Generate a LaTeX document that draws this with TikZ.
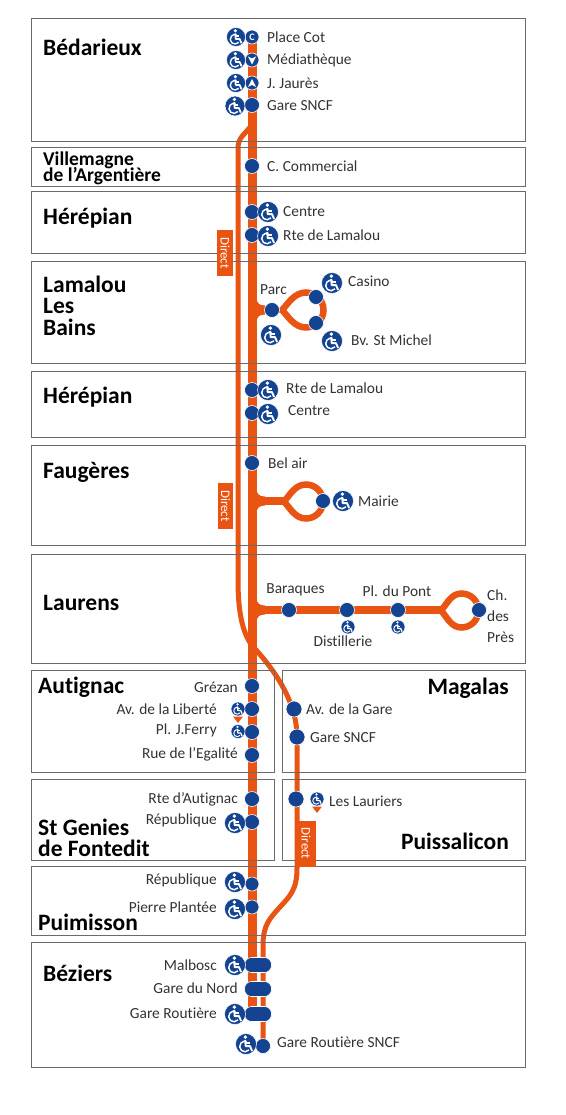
\documentclass[tikz,border=0pt]{standalone}
\usepackage{fontspec}
\setmainfont[Ligatures=NoCommon]{Carlito}
\usetikzlibrary{arrows.meta}
\definecolor{lineorange}{HTML}{E95412}
\definecolor{stopblue}{HTML}{134391}
\definecolor{framegray}{HTML}{6A6A6A}
\definecolor{textgray}{HTML}{333333}
\pgfdeclarelayer{lines}
\pgfdeclarelayer{boxes}
\pgfsetlayers{lines,boxes,main}
\tikzset{
  wheelchair/.pic={
    \begin{scope}[scale=#1]
      \fill[stopblue, draw=white, line width=.5pt] (0,0) circle (10);
      \fill[white] (-.6,-6.6) circle (1.8);
      \draw[white, line width=#1*1.8pt, line join=round] (-.8,-3.8) -- (-.3,2) -- (3.8,2) -- (5.8,6.6);
      \draw[white, line width=#1*1.5pt] (-.6,-.9) -- (3.4,-.9);
      \draw[white, line width=#1*1.4pt] (2.8,5.6) arc (40:290:5);
    \end{scope}
  },
  forkjoin/.pic={
    \fill[lineorange] (0,-13) -- (4.5,-13) .. controls (4.5,-7) and (7,-4.5) .. (13,-4.5) -- (13,4.5)
      .. controls (7,4.5) and (4.5,7) .. (4.5,13) -- (0,13) -- cycle;
  }
}
\begin{document}
\begin{tikzpicture}[x=1pt,y=-1pt,
  stopdot/.style={circle, fill=stopblue, draw=white, line width=.6pt, minimum size=15pt, inner sep=0pt},
  stoppill/.style={rectangle, rounded corners=7pt, fill=stopblue, draw=white, line width=.6pt, minimum width=27pt, minimum height=15pt, inner sep=0pt},
  stoptext/.style={font=\fontsize{15.4}{16}\selectfont, text=textgray, inner sep=0pt},
  towntext/.style={font=\fontsize{23.5}{20}\selectfont\bfseries, text=black, inner sep=0pt, align=left},
  directtag/.style={rectangle, fill=lineorange, text=white, font=\fontsize{13}{13}\selectfont, rotate=-90, minimum width=46pt, minimum height=15.5pt, inner sep=0pt},
  boxframe/.style={draw=framegray, line width=1pt},
  mainline/.style={draw=lineorange, line width=9pt},
  directline/.style={draw=lineorange, line width=5pt},
  forkline/.style={draw=lineorange, line width=6.5pt}]

\useasboundingbox (0,0) rectangle (565,1115);

\node[stopdot, minimum size=14pt, text=white, font=\fontsize{10}{10}\selectfont\bfseries] (cot) at (252,37) {C};
\node[stopdot, minimum size=14pt] (media) at (252,60) {};
\node[stopdot, minimum size=14pt] (jaures) at (252,83) {};
\node[stopdot] (gare) at (252,105) {};
\node[stopdot] (commercial) at (252,166) {};
\node[stopdot] (centre) at (252,212) {};
\node[stopdot] (lamalou) at (252,235) {};
\node[stopdot] (parc) at (272,310) {};
\node[stopdot] (casino) at (316,297) {};
\node[stopdot] (michel) at (316,323) {};
\node[stopdot] (lamalourt) at (252,390) {};
\node[stopdot] (centrert) at (252,413) {};
\node[stopdot] (belair) at (252,463) {};
\node[stopdot] (mairie) at (323,501) {};
\node[stopdot] (baraques) at (289,610) {};
\node[stopdot] (distillerie) at (347,610) {};
\node[stopdot] (pont) at (398,610) {};
\node[stopdot] (pres) at (479,610) {};
\node[stopdot] (grezan) at (252,686) {};
\node[stopdot] (liberte) at (252,709) {};
\node[stopdot] (ferry) at (252,732) {};
\node[stopdot] (egalite) at (252,755) {};
\node[stopdot, minimum size=16pt] (avgare) at (294,709) {};
\node[stopdot, minimum size=16pt] (magsncf) at (297,737) {};
\node[stopdot, minimum size=16pt] (lauriers) at (296,799) {};
\node[stopdot] (autignac) at (252,799) {};
\node[stopdot] (repgenies) at (252,822) {};
\node[stopdot, minimum size=14pt] (reppui) at (252,884) {};
\node[stopdot, minimum size=14pt] (plantee) at (252,907) {};
\node[stoppill] (malbosc) at (258,965) {};
\node[stoppill] (nord) at (258,989) {};
\node[stoppill] (routiere) at (258,1014) {};
\node[stopdot] (routsncf) at (263,1046) {};

\fill[white] (248,56.5) -- (252,58.5) -- (256,56.5) -- (252,64.5) -- cycle;
\fill[white] (248,87) -- (252,85) -- (256,87) -- (252,79) -- cycle;

\pic at (236,37) {wheelchair=.95};
\pic at (236,60) {wheelchair=.95};
\pic at (236,83) {wheelchair=.95};
\pic at (235,106) {wheelchair=1};
\pic at (268,212) {wheelchair=1.05};
\pic at (268,236) {wheelchair=1.05};
\pic at (332,283) {wheelchair=1.05};
\pic at (271,335) {wheelchair=1.05};
\pic at (332,341) {wheelchair=1.05};
\pic at (268,390) {wheelchair=1.05};
\pic at (268,414) {wheelchair=1.05};
\pic at (343,501) {wheelchair=1.05};
\pic at (348,627) {wheelchair=.7};
\pic at (398,627) {wheelchair=.7};
\pic at (238,709) {wheelchair=.7};
\pic at (238,731.5) {wheelchair=.7};
\pic at (317,799) {wheelchair=.7};
\pic at (235,823) {wheelchair=1.05};
\pic at (235,882) {wheelchair=1.05};
\pic at (235,909) {wheelchair=1.05};
\pic at (235,965) {wheelchair=1.05};
\pic at (235,1014) {wheelchair=1.05};
\pic at (246,1044) {wheelchair=1.05};

\fill[lineorange] (233,716.5) -- (243,716.5) -- (238,723) -- cycle;
\fill[lineorange] (312,806.5) -- (322,806.5) -- (317,813) -- cycle;

\node[stoptext, anchor=west] (tcot) at (267,37) {Place Cot};
\node[stoptext, anchor=west] (tmedia) at (267,60) {Médiathèque};
\node[stoptext, anchor=west] (tjaures) at (267,83) {J. Jaurès};
\node[stoptext, anchor=west] (tgare) at (267,106) {Gare SNCF};
\node[stoptext, anchor=west] (tcommercial) at (267,166) {C. Commercial};
\node[stoptext, anchor=west] (tcentre) at (283,212) {Centre};
\node[stoptext, anchor=west] (tlamalou) at (283,235) {Rte de Lamalou};
\node[stoptext] (tparc) at (273.5,290) {Parc};
\node[stoptext, anchor=west] (tcasino) at (348,281) {Casino};
\node[stoptext, anchor=west] (tmichel) at (351,340) {Bv. St Michel};
\node[stoptext, anchor=west] (tlamalourt) at (286,388) {Rte de Lamalou};
\node[stoptext, anchor=west] (tcentrert) at (288,411) {Centre};
\node[stoptext, anchor=west] (tbelair) at (268,463) {Bel air};
\node[stoptext, anchor=west] (tmairie) at (358,501) {Mairie};
\node[stoptext] (tbaraques) at (295.5,590) {Baraques};
\node[stoptext] (tdistillerie) at (343,641) {Distillerie};
\node[stoptext] (tpont) at (397,591) {Pl. du Pont};
\node[stoptext, anchor=west] (tch) at (487,595) {Ch.};
\node[stoptext, anchor=west] (tdes) at (487,616) {des};
\node[stoptext, anchor=west] (tpresb) at (487,637) {Près};
\node[stoptext, anchor=east] (tgrezan) at (238,687) {Grézan};
\node[stoptext, anchor=east] (tliberte) at (217,709) {Av. de la Liberté};
\node[stoptext, anchor=east] (tferry) at (217,730) {Pl. J.Ferry};
\node[stoptext, anchor=east] (tegalite) at (238,754) {Rue de l’Egalité};
\node[stoptext, anchor=west] (tavgare) at (306,709) {Av. de la Gare};
\node[stoptext, anchor=west] (tmagsncf) at (310,738) {Gare SNCF};
\node[stoptext, anchor=west] (tlauriers) at (329,801) {Les Lauriers};
\node[stoptext, anchor=east] (tautignac) at (238,799) {Rte d’Autignac};
\node[stoptext, anchor=east] (trepgenies) at (217,820) {République};
\node[stoptext, anchor=east] (treppui) at (217,880) {République};
\node[stoptext, anchor=east] (tplantee) at (217,907) {Pierre Plantée};
\node[stoptext, anchor=east] (tmalbosc) at (217,965) {Malbosc};
\node[stoptext, anchor=east] (tnord) at (238,988) {Gare du Nord};
\node[stoptext, anchor=east] (troutiere) at (217,1013) {Gare Routière};
\node[stoptext, anchor=west] (troutsncf) at (277,1042) {Gare Routière SNCF};

\node[towntext, anchor=west] (bedarieux) at (43,47) {Bédarieux};
\node[towntext, anchor=west, font=\fontsize{19.5}{15}\selectfont\bfseries] (villemagne) at (43,168) {Villemagne\\[-2.5pt]de l’Argentière};
\node[towntext, anchor=west] (herepian) at (43,218) {Hérépian};
\node[towntext, anchor=west, font=\fontsize{23.5}{21.5}\selectfont\bfseries] (lamaloutown) at (43,305.5) {Lamalou\\Les\\Bains};
\node[towntext, anchor=west] (herepianrt) at (43,397) {Hérépian};
\node[towntext, anchor=west] (faugeres) at (43,472) {Faugères};
\node[towntext, anchor=west] (laurens) at (43,603) {Laurens};
\node[towntext, anchor=west] (autignactown) at (38,687) {Autignac};
\node[towntext, anchor=east] (magalas) at (509,688) {Magalas};
\node[towntext, anchor=west, font=\fontsize{23.5}{21}\selectfont\bfseries] (genies) at (38,837.5) {St Genies\\de Fontedit};
\node[towntext, anchor=east] (puissalicon) at (509,841) {Puissalicon};
\node[towntext, anchor=west] (puimisson) at (38,922) {Puimisson};
\node[towntext, anchor=west] (beziers) at (43,973) {Béziers};

\node[directtag] (directa) at (225,253) {Direct};
\node[directtag] (directb) at (225.5,506) {Direct};
\node[directtag, minimum height=20pt] (directc) at (306,843.5) {Direct};

\begin{pgfonlayer}{boxes}
\draw[boxframe] (31,19) rectangle (525,142);
\draw[boxframe] (31,148) rectangle (525,187);
\draw[boxframe] (31,192) rectangle (525,253);
\draw[boxframe] (31,261) rectangle (525,363);
\draw[boxframe] (31,371) rectangle (525,437);
\draw[boxframe] (31,445) rectangle (525,545);
\draw[boxframe] (31,554) rectangle (525,663);
\draw[boxframe] (31,670) rectangle (274,772);
\draw[boxframe] (282,670) rectangle (525,772);
\draw[boxframe] (31,779) rectangle (274,860);
\draw[boxframe] (282,779) rectangle (525,860);
\draw[boxframe] (31,866) rectangle (525,935);
\draw[boxframe] (31,942) rectangle (525,1067);
\end{pgfonlayer}

\begin{pgfonlayer}{lines}
\fill[white] (0,0) rectangle (565,1115);
\draw[mainline] (cot.center) -- (cot |- routiere);
\draw[directline, rounded corners=6pt] (gare.center) ++(0,20) -- (238,141) -- (238,300) [sharp corners] -- (238,580)
  .. controls (238,620) and (245,640) .. (257,651)
  .. controls (272,668) and (297,700) .. (magsncf.center) -- (297,868)
  .. controls (297,890) and (290,896) .. (280,907)
  .. controls (270,918) and (263,925) .. (263,945) -- (routsncf.center);

\pic at (252,310) {forkjoin};
\pic at (252,501) {forkjoin};
\pic at (252,610) {forkjoin};
\draw[draw=lineorange, line width=8pt] (belair |- mairie) -- (287,501);
\draw[draw=lineorange, line width=8.5pt] (baraques -| belair) -- (445,610);
\draw[draw=lineorange, line width=8pt] (parc -| belair) -- (parc.center);
\draw[draw=lineorange, line width=5pt] (parc.center) -- (284,310);

\draw[forkline] (282,310)
  .. controls (288,304) and (294,292.5) .. (306,292.5) arc (-90:90:17.5)
  .. controls (294,327.5) and (288,316) .. (282,310);
\draw[forkline] (284,501.5)
  .. controls (290,495) and (295,484.5) .. (306,484.5) arc (-90:90:17)
  .. controls (295,518.5) and (290,508) .. (284,501.5);
\draw[forkline] (441,610.5)
  .. controls (447,604) and (451,593.5) .. (461.5,593.5) arc (-90:90:17)
  .. controls (451,627.5) and (447,617) .. (441,610.5);
\end{pgfonlayer}

\end{tikzpicture}
\end{document}
